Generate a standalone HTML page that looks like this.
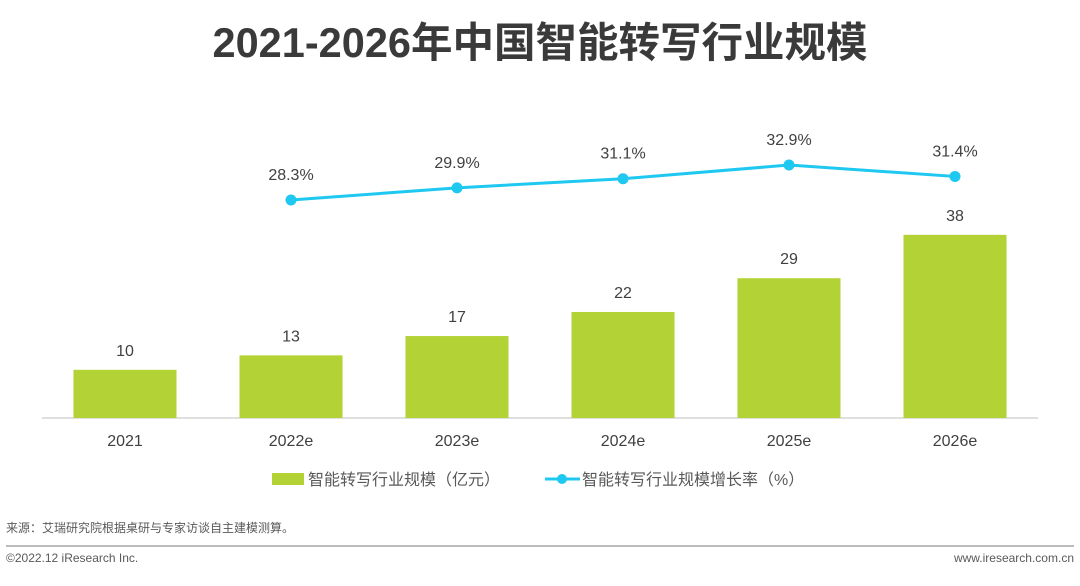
<!DOCTYPE html>
<html><head><meta charset="utf-8"><style>
body{margin:0;background:#fff;}
svg text{font-family:"Liberation Sans","Noto Sans CJK SC",sans-serif;}
</style></head><body>
<svg id="c" width="1080" height="581" viewBox="0 0 1080 581" xmlns="http://www.w3.org/2000/svg">
<text x="540" y="57" text-anchor="middle" font-size="41.5" font-weight="bold" fill="#3a3a3a">2021-2026年中国智能转写行业规模</text>
<line x1="42" y1="418" x2="1038" y2="418" stroke="#bfbfbf" stroke-width="1"/>
<g id="bars"></g><g id="line"></g><g id="xl"></g>
<g>
<rect x="272" y="473" width="32" height="12" fill="#b2d235"/>
<text x="308" y="485" font-size="16" fill="#595959">智能转写行业规模（亿元）</text>
<line x1="545" y1="479" x2="580" y2="479" stroke="#1ec8f0" stroke-width="3"/>
<circle cx="562" cy="479" r="5" fill="#1ec8f0"/>
<text x="582" y="485" font-size="16" fill="#595959">智能转写行业规模增长率（%）</text>
</g>
<text x="6" y="532" font-size="12" fill="#595959">来源：艾瑞研究院根据桌研与专家访谈自主建模测算。</text>
<line x1="6" y1="546" x2="1074" y2="546" stroke="#a6a6a6" stroke-width="1.5"/>
<text x="6" y="562" font-size="12" fill="#595959">©2022.12 iResearch Inc.</text>
<text x="1074" y="562" font-size="12" fill="#595959" text-anchor="end">www.iresearch.com.cn</text>
</svg>
<script>
const categories=["2021","2022e","2023e","2024e","2025e","2026e"];
const sizeValues=[10,13,17,22,29,38];
const growthValues=[null,28.3,29.9,31.1,32.9,31.4];
const growthLabels=["","28.3%","29.9%","31.1%","32.9%","31.4%"];
const NS="http://www.w3.org/2000/svg";
const xC=i=>125+i*166;
const yB=v=>418-v*4.82;
const yL=v=>200-(v-28.3)*7.6;
function mk(t,a,p){const e=document.createElementNS(NS,t);for(const k in a)e.setAttribute(k,a[k]);p.appendChild(e);return e;}
const bars=document.getElementById('bars'),line=document.getElementById('line'),xl=document.getElementById('xl');
categories.forEach((c,i)=>{
 const r=mk('rect',{x:xC(i)-51.5,y:yB(sizeValues[i]),width:103,height:418-yB(sizeValues[i]),fill:'#b2d235'},bars);
 
 
 const t=mk('text',{x:xC(i),y:yB(sizeValues[i])-14,'text-anchor':'middle','font-size':16,fill:'#404040'},bars);
 t.textContent=sizeValues[i];
 
 
 const l=mk('text',{x:xC(i),y:446,'text-anchor':'middle','font-size':16,fill:'#404040'},xl);
 l.textContent=c;
 
 
});
const pts=[];growthValues.forEach((v,i)=>{if(v!=null)pts.push([xC(i),yL(v),i]);});
const pl=mk('polyline',{points:pts.map(p=>p[0]+','+p[1]).join(' '),fill:'none',stroke:'#1ec8f0','stroke-width':3},line);


pts.forEach(p=>{
 const c=mk('circle',{cx:p[0],cy:p[1],r:5.5,fill:'#1ec8f0'},line);
 
 
 const t=mk('text',{x:p[0],y:p[1]-20,'text-anchor':'middle','font-size':16,fill:'#404040'},line);
 t.textContent=growthLabels[p[2]];
 
 
});
</script>
</body></html>
